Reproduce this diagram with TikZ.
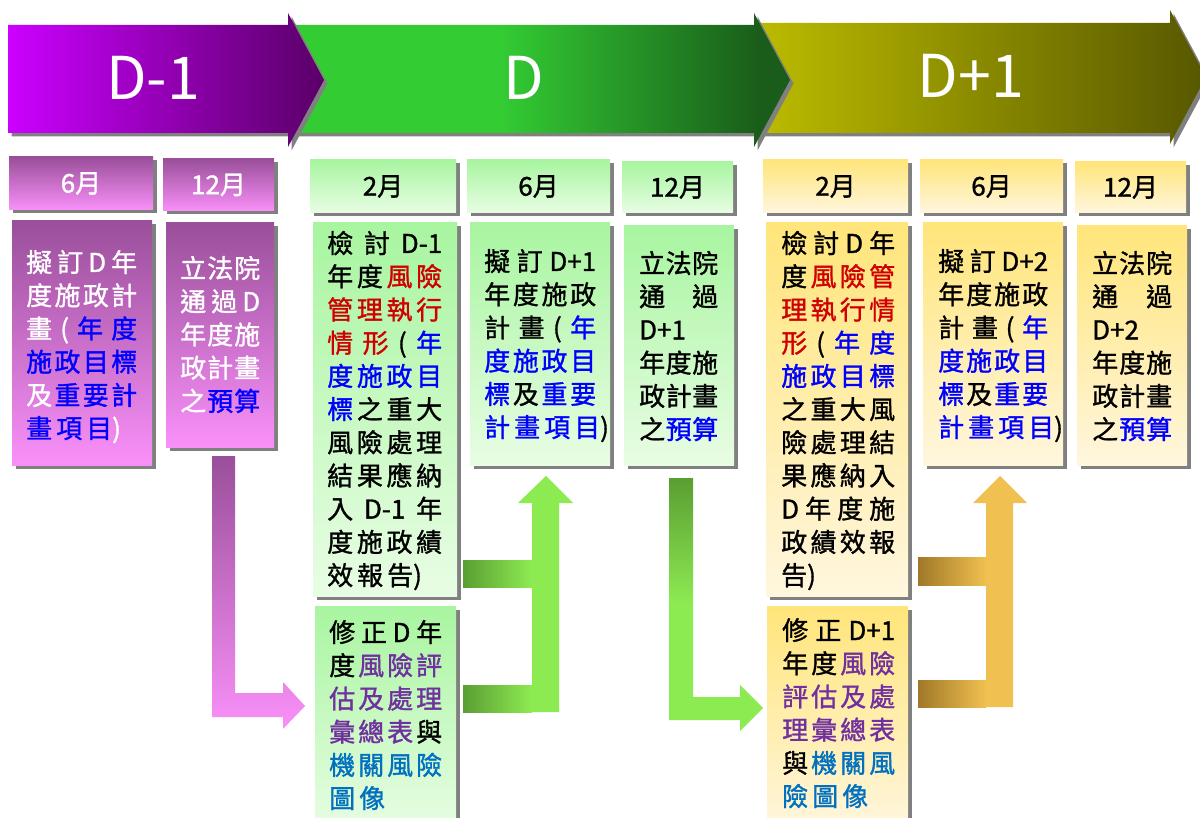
\documentclass[tikz,border=0pt]{standalone}
\usepackage{fontspec}
\setmainfont{Noto Sans CJK TC}
\newfontfamily\cjkb{Noto Sans CJK TC}[FakeBold=1.2]
\usetikzlibrary{fit,shadows}
\definecolor{rd}{HTML}{D00000}
\definecolor{bl}{HTML}{0000FF}
\definecolor{pu}{HTML}{7030A0}
\definecolor{lb}{HTML}{0070C0}
\definecolor{pTop}{HTML}{9A4F9A}
\definecolor{pBot}{HTML}{F990F9}
\definecolor{gTop}{HTML}{A8F5A0}
\definecolor{gBot}{HTML}{E8FDE4}
\definecolor{yTop}{HTML}{FFE57A}
\definecolor{yBot}{HTML}{FFF6DE}
\definecolor{shd}{HTML}{808080}
\definecolor{dma}{HTML}{CC00FF}
\definecolor{dmb}{HTML}{5A0068}
\definecolor{dga}{HTML}{33CC33}
\definecolor{dgb}{HTML}{1A5C1A}
\definecolor{dya}{HTML}{BCBC00}
\definecolor{dyb}{HTML}{575700}
\definecolor{gdark}{HTML}{5A9E32}
\definecolor{gbright}{HTML}{8DEB52}
\definecolor{gold}{HTML}{F0C050}
\definecolor{golddark}{HTML}{A07828}
\pgfdeclarehorizontalshading{dshade}{100bp}{color(0bp)=(dga); color(25bp)=(dga); color(46bp)=(dga); color(72bp)=(dgb); color(100bp)=(dgb)}
\newcommand\J[1]{\hbox to\linewidth{#1}}
\newcommand\N[1]{\hbox{#1}}
\newcommand\s{\hspace{4pt}}
\newcommand\B[1]{\textcolor{bl}{#1}}
\newcommand\R[1]{\textcolor{rd}{#1}}
\newcommand\PP[1]{\textcolor{pu}{#1}}
\newcommand\LB[1]{\textcolor{lb}{#1}}
\newcommand\TF{\cjkb\fontsize{26}{33.2}\selectfont\baselineskip=33.2pt\lineskiplimit=-1000pt\lineskip=0pt}
\tikzset{
  shdw/.style={drop shadow={shadow xshift=3.5pt,shadow yshift=-3.5pt,fill=shd,opacity=1}},
  pbox/.style={shdw,inner sep=0pt,top color=pTop,bottom color=pBot},
  gbox/.style={shdw,inner sep=0pt,top color=gTop,bottom color=gBot},
  ybox/.style={shdw,inner sep=0pt,top color=yTop,bottom color=yBot},
  hdr/.style={inner sep=0pt,font=\cjkb\fontsize{26}{30}\selectfont},
  tx/.style={anchor=base west,inner sep=0pt,align=left},
  big/.style={anchor=base,inner sep=0pt,text=white,font=\fontsize{59}{60}\selectfont},
}
\begin{document}
\begin{tikzpicture}[x=1pt,y=-1pt]
\clip (0,0) rectangle (1200,818);
\fill[white] (0,0) rectangle (1200,818);
% top band arrows
\path[shdw,left color=dya,right color=dyb] (755,23) -- (1170,23) -- (1170,10) -- (1206,77) -- (1170,144) -- (1170,133) -- (755,133) -- cycle;
\path[shdw,shading=dshade] (290,25) -- (754,25) -- (754,13) -- (790,80) -- (754,147) -- (754,133) -- (290,133) -- cycle;
\path[shdw,left color=dma,right color=dmb] (8,25) -- (288,25) -- (288,13) -- (324,80) -- (288,147) -- (288,133) -- (8,133) -- cycle;
\node[big] (lDm) at (153,100) {D-1};
\node[big] (lD) at (524,100) {D};
\node[big] (lDp) at (971,98) {D+1};
% purple column
\node[pbox,fit={(9,157)(153,210)}] (ph1) {};
\node[pbox,fit={(163,159)(274,211)}] (ph2) {};
\node[pbox,fit={(12,221)(152,465)}] (pb1) {};
\node[pbox,fit={(166,223)(274,447)}] (pb2) {};
\node[hdr,text=white] (ph1t) at (ph1.center) {6月};
\node[hdr,text=white] (ph2t) at (ph2.center) {12月};
% green column
\node[gbox,fit={(310,160)(456,213)}] (gh1) {};
\node[gbox,fit={(467,160)(610,213)}] (gh2) {};
\node[gbox,fit={(622,162)(733,213)}] (gh3) {};
\node[gbox,fit={(313,223)(457,596)}] (gb1) {};
\node[gbox,fit={(470,223)(610,465)}] (gb2) {};
\node[gbox,fit={(624,226)(734,465)}] (gb3) {};
\node[gbox,fit={(315,606)(456,830)}] (gb4) {};
\node[hdr] (gh1t) at (gh1.center) {2月};
\node[hdr] (gh2t) at (gh2.center) {6月};
\node[hdr] (gh3t) at (gh3.center) {12月};
% yellow column
\node[ybox,fit={(763,160)(908,213)}] (yh1) {};
\node[ybox,fit={(920,160)(1063,213)}] (yh2) {};
\node[ybox,fit={(1075,162)(1186,213)}] (yh3) {};
\node[ybox,fit={(766,223)(908,596)}] (yb1) {};
\node[ybox,fit={(923,223)(1063,465)}] (yb2) {};
\node[ybox,fit={(1077,226)(1187,465)}] (yb3) {};
\node[ybox,fit={(767,606)(908,830)}] (yb4) {};
\node[hdr] (yh1t) at (yh1.center) {2月};
\node[hdr] (yh2t) at (yh2.center) {6月};
\node[hdr] (yh3t) at (yh3.center) {12月};
% block arrows
\path[top color=pTop,bottom color=pBot] (212,456) -- (235,456) -- (235,693) -- (283,693) -- (283,682) -- (305,706) -- (283,729) -- (283,717) -- (212,717) -- cycle;
\fill[gbright] (532,712) -- (532,503) -- (518,503) -- (546,476) -- (573,503) -- (559,503) -- (559,712) -- cycle;
\shade[left color=gdark,right color=gbright] (463,560) rectangle (532,587);
\shade[left color=gdark,right color=gbright] (463,685) rectangle (532,712);
\path[top color=gdark,bottom color=gbright,middle color=gbright] (669,478) -- (693,478) -- (693,697) -- (740,697) -- (740,685) -- (763,708) -- (740,731) -- (740,720) -- (669,720) -- cycle;
\fill[gold] (986,707) -- (986,503) -- (973,503) -- (1000,476) -- (1027,503) -- (1013,503) -- (1013,707) -- cycle;
\shade[left color=golddark,right color=gold] (918,557) rectangle (986,585);
\shade[left color=golddark,right color=gold] (918,680) rectangle (986,707);
% texts purple
\node[tx,text width=111pt,text=white] (tp1) at (26,272) {\TF
\J{擬\hfill 訂\hfill D\hfill 年}
\J{度\hfill 施\hfill 政\hfill 計}
\J{畫\hfill (\hfill \B{年}\hfill \B{度}}
\J{\B{施\hfill 政\hfill 目\hfill 標}}
\J{及\hfill \B{重\hfill 要\hfill 計}}
\N{\B{畫\s 項\s 目})}\par};
\node[tx,text width=80pt,text=white] (tp2) at (180,278) {\TF
\J{立\hfill 法\hfill 院}
\J{通\hfill 過\hfill D}
\J{年\hfill 度\hfill 施}
\J{政\hfill 計\hfill 畫}
\J{之\hfill \B{預\hfill 算}}\par};
% texts green
\node[tx,text width=115pt] (tg1) at (327,253) {\TF
\J{檢\hfill 討\hfill D-1}
\J{年\hfill 度\hfill \R{風\hfill 險}}
\J{\R{管\hfill 理\hfill 執\hfill 行}}
\J{\R{情\hfill 形}\hfill (\hfill \B{年}}
\J{\B{度\hfill 施\hfill 政\hfill 目}}
\J{\B{標}\hfill 之\hfill 重\hfill 大}
\J{風\hfill 險\hfill 處\hfill 理}
\J{結\hfill 果\hfill 應\hfill 納}
\J{入\hfill D-1\hfill 年}
\J{度\hfill 施\hfill 政\hfill 績}
\N{效\s 報\s 告)}\par};
\node[tx,text width=112pt] (tg2) at (484,271) {\TF
\J{擬\hfill 訂\hfill D+1}
\J{年\hfill 度\hfill 施\hfill 政}
\J{計\hfill 畫\hfill (\hfill \B{年}}
\J{\B{度\hfill 施\hfill 政\hfill 目}}
\J{\B{標}\hfill 及\hfill \B{重\hfill 要}}
\N{\B{計\s 畫\s 項\s 目})}\par};
\node[tx,text width=79pt] (tg3) at (639,273) {\TF
\J{立\hfill 法\hfill 院}
\J{通\hfill 過}
\N{D+1}
\J{年\hfill 度\hfill 施}
\J{政\hfill 計\hfill 畫}
\J{之\hfill \B{預\hfill 算}}\par};
\node[tx,text width=113pt] (tg4) at (329,642) {\TF
\J{修\hfill 正\hfill D\hfill 年}
\J{度\hfill \PP{風\hfill 險\hfill 評}}
\J{\PP{估\hfill 及\hfill 處\hfill 理}}
\J{\PP{彙\hfill 總\hfill 表}\hfill 與}
\J{\LB{機\hfill 關\hfill 風\hfill 險}}
\N{\LB{圖\s 像}}\par};
% texts yellow
\node[tx,text width=114pt] (ty1) at (781,253) {\TF
\J{檢\hfill 討\hfill D\hfill 年}
\J{度\hfill \R{風\hfill 險\hfill 管}}
\J{\R{理\hfill 執\hfill 行\hfill 情}}
\J{\R{形}\hfill (\hfill \B{年\hfill 度}}
\J{\B{施\hfill 政\hfill 目\hfill 標}}
\J{之\hfill 重\hfill 大\hfill 風}
\J{險\hfill 處\hfill 理\hfill 結}
\J{果\hfill 應\hfill 納\hfill 入}
\J{D\hfill 年\hfill 度\hfill 施}
\J{政\hfill 績\hfill 效\hfill 報}
\N{告)}\par};
\node[tx,text width=110pt] (ty2) at (938,271) {\TF
\J{擬\hfill 訂\hfill D+2}
\J{年\hfill 度\hfill 施\hfill 政}
\J{計\hfill 畫\hfill (\hfill \B{年}}
\J{\B{度\hfill 施\hfill 政\hfill 目}}
\J{\B{標}\hfill 及\hfill \B{重\hfill 要}}
\N{\B{計\s 畫\s 項\s 目})}\par};
\node[tx,text width=80pt] (ty3) at (1092,273) {\TF
\J{立\hfill 法\hfill 院}
\J{通\hfill 過}
\N{D+2}
\J{年\hfill 度\hfill 施}
\J{政\hfill 計\hfill 畫}
\J{之\hfill \B{預\hfill 算}}\par};
\node[tx,text width=113pt] (ty4) at (782,640) {\TF
\J{修\hfill 正\hfill D+1}
\J{年\hfill 度\hfill \PP{風\hfill 險}}
\J{\PP{評\hfill 估\hfill 及\hfill 處}}
\J{\PP{理\hfill 彙\hfill 總\hfill 表}}
\J{與\hfill \LB{機\hfill 關\hfill 風}}
\N{\LB{險\s 圖\s 像}}\par};
\end{tikzpicture}
\end{document}
